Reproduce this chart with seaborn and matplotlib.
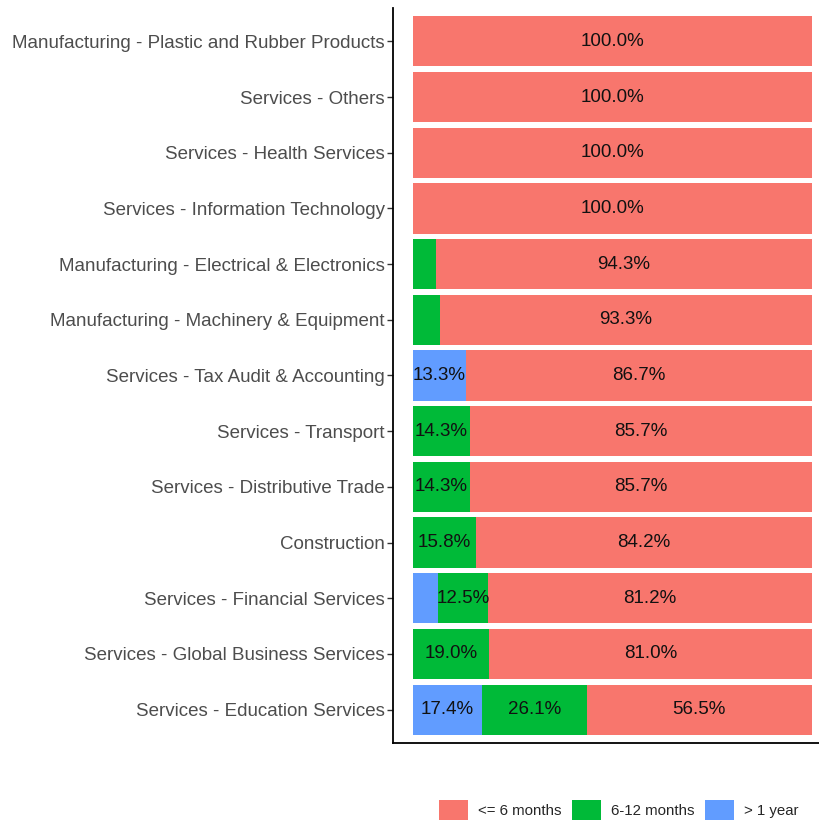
import pandas as pd
import seaborn as sns
import matplotlib.pyplot as plt
from matplotlib.patches import Patch

# data (top to bottom)
sectors = [
    "Manufacturing - Plastic and Rubber Products",
    "Services - Others",
    "Services - Health Services",
    "Services - Information Technology",
    "Manufacturing - Electrical & Electronics",
    "Manufacturing - Machinery & Equipment",
    "Services - Tax Audit & Accounting",
    "Services - Transport",
    "Services - Distributive Trade",
    "Construction",
    "Services - Financial Services",
    "Services - Global Business Services",
    "Services - Education Services",
]
over_1_year = [0, 0, 0, 0, 0, 0, 13.3, 0, 0, 0, 6.25, 0, 17.4]
months_6_12 = [0, 0, 0, 0, 5.7, 6.7, 0, 14.3, 14.3, 15.8, 12.5, 19.0, 26.1]
upto_6_months = [100, 100, 100, 100, 94.3, 93.3, 86.7, 85.7, 85.7, 84.2, 81.25, 81.0, 56.5]

legend_labels = ["<= 6 months", "6-12 months", "> 1 year"]
colors = ["#F8766D", "#00BA38", "#619CFF"]

df = pd.DataFrame({
    "sector": sectors,
    "gt1": over_1_year,
    "m612": months_6_12,
    "le6": upto_6_months,
})
df["cum_m612"] = df["gt1"] + df["m612"]
df["cum_le6"] = df["cum_m612"] + df["le6"]

sns.set_theme(style="white")
plt.rcParams["font.family"] = ["Liberation Sans", "DejaVu Sans"]

fig = plt.figure(figsize=(8.19, 8.22), dpi=100)
ax = fig.add_axes([393 / 819, 1 - 743 / 822, 1 - 393 / 819, (743 - 8) / 822])

# stacked bars: draw the longest cumulative first, shorter ones on top
sns.barplot(data=df, x="cum_le6", y="sector", orient="h", color=colors[0],
            width=0.9, linewidth=0, saturation=1, ax=ax)
sns.barplot(data=df, x="cum_m612", y="sector", orient="h", color=colors[1],
            width=0.9, linewidth=0, saturation=1, ax=ax)
sns.barplot(data=df, x="gt1", y="sector", orient="h", color=colors[2],
            width=0.9, linewidth=0, saturation=1, ax=ax)

# percentage labels for segments above 10%
for i, row in df.iterrows():
    segs = [(0, row["gt1"]), (row["gt1"], row["m612"]), (row["cum_m612"], row["le6"])]
    for start, val in segs:
        if val > 10:
            ax.text(start + val / 2, i, f"{val:.1f}%", ha="center", va="center",
                    fontsize=13.5, color="#111111")

ax.set_xlim(-5, 101.75)
ax.set_ylim(len(sectors) - 1 + 0.6, -0.6)
ax.set_xlabel("")
ax.set_ylabel("")
ax.set_xticks([])
for s in ["top", "right"]:
    ax.spines[s].set_visible(False)
for s in ["left", "bottom"]:
    ax.spines[s].set_color("black")
    ax.spines[s].set_linewidth(1.3)
ax.tick_params(axis="y", left=True, length=4, width=1, color="#333333",
               labelsize=13.5, labelcolor="#4D4D4D", pad=2)

handles = [Patch(facecolor=c, edgecolor="none") for c in colors]
fig.legend(handles, legend_labels, loc="center", ncol=3,
           bbox_to_anchor=(619 / 819, 1 - 810 / 822), frameon=False,
           fontsize=10.8, handlelength=1.9, handleheight=1.7,
           handletextpad=0.7, columnspacing=0.7)

fig.savefig("out.png", dpi=100)
